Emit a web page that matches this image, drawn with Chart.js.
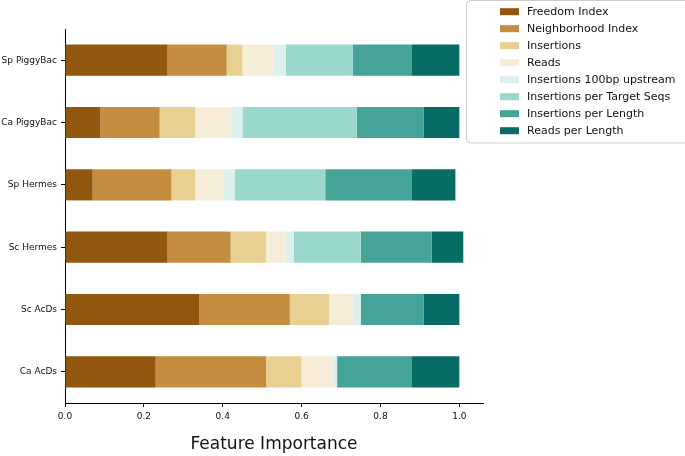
<!DOCTYPE html>
<html>
<head>
<meta charset="utf-8">
<script src="https://cdn.jsdelivr.net/npm/chart.js@4/dist/chart.umd.min.js"></script>
<style>
html,body{margin:0;padding:0;background:#fff;}
#wrap{position:relative;width:685px;height:456px;}
</style>
</head>
<body>
<div id="wrap"><canvas id="c" width="685" height="456"></canvas></div>
<script>
const categories = ["Sp PiggyBac", "Ca PiggyBac", "Sp Hermes", "Sc Hermes", "Sc AcDs", "Ca AcDs"];
const seriesNames = ["Freedom Index", "Neighborhood Index", "Insertions", "Reads", "Insertions 100bp upstream", "Insertions per Target Seqs", "Insertions per Length", "Reads per Length"];
const freedomIndex = [0.26, 0.09, 0.07, 0.26, 0.34, 0.23];
const neighborhoodIndex = [0.15, 0.15, 0.20, 0.16, 0.23, 0.28];
const insertions = [0.04, 0.09, 0.06, 0.09, 0.10, 0.09];
const reads = [0.08, 0.09, 0.07, 0.05, 0.06, 0.08];
const insertions100bp = [0.03, 0.03, 0.03, 0.02, 0.02, 0.01];
const insertionsPerTarget = [0.17, 0.29, 0.23, 0.17, 0.0, 0.0];
const insertionsPerLength = [0.15, 0.17, 0.22, 0.18, 0.16, 0.19];
const readsPerLength = [0.12, 0.09, 0.11, 0.08, 0.09, 0.12];
const xTicks = [0.0, 0.2, 0.4, 0.6, 0.8, 1.0];
const colors = ["#91570e", "#c48d3f", "#e8cf92", "#f6edd8", "#dcf0ed", "#9ad8ce", "#46a398", "#076c63"];

const seriesValues = [freedomIndex, neighborhoodIndex, insertions, reads, insertions100bp, insertionsPerTarget, insertionsPerLength, readsPerLength];
const FONT = "'DejaVu Sans', sans-serif";

const legendPlugin = {
  id: 'boxLegend',
  afterDraw(chart) {
    const ctx = chart.ctx;
    ctx.save();
    const x0 = 466.5, y0 = 0.5, w = 240, h = 142.5, r = 4;
    ctx.beginPath();
    ctx.moveTo(x0 + r, y0);
    ctx.lineTo(x0 + w, y0);
    ctx.lineTo(x0 + w, y0 + h);
    ctx.lineTo(x0 + r, y0 + h);
    ctx.arcTo(x0, y0 + h, x0, y0 + h - r, r);
    ctx.lineTo(x0, y0 + r);
    ctx.arcTo(x0, y0, x0 + r, y0, r);
    ctx.closePath();
    ctx.fillStyle = 'rgba(255,255,255,0.85)';
    ctx.fill();
    ctx.strokeStyle = '#cccccc';
    ctx.lineWidth = 1;
    ctx.stroke();
    ctx.font = "11px " + FONT;
    ctx.textBaseline = 'middle';
    chart.data.datasets.forEach((ds, i) => {
      const cy = 11.7 + 17 * i;
      ctx.fillStyle = ds.backgroundColor;
      ctx.fillRect(500, cy - 3.5, 19, 7);
      ctx.fillStyle = '#111';
      ctx.fillText(ds.label, 527, cy + 0.5);
    });
    ctx.restore();
  }
};

new Chart(document.getElementById('c'), {
  type: 'bar',
  data: {
    labels: categories,
    datasets: seriesNames.map((name, i) => ({
      label: name,
      data: seriesValues[i],
      backgroundColor: colors[i],
      borderWidth: 0,
      categoryPercentage: 1.0,
      barPercentage: 0.5
    }))
  },
  options: {
    indexAxis: 'y',
    responsive: false,
    animation: false,
    devicePixelRatio: 1,
    layout: { padding: { top: 29, right: 202, bottom: 0, left: 0 } },
    plugins: { legend: { display: false }, tooltip: { enabled: false } },
    scales: {
      x: {
        stacked: true,
        min: 0,
        max: 1.06,
        afterFit(scale) { scale.height = 53; },
        afterBuildTicks(scale) { scale.ticks = xTicks.map(v => ({ value: v })); },
        grid: { drawOnChartArea: false, drawTicks: true, tickLength: 4, tickColor: '#000', tickWidth: 1 },
        border: { display: true, color: '#000', width: 1 },
        ticks: { color: '#111', font: { family: FONT, size: 9 }, padding: 4, callback: v => Number(v).toFixed(1), maxRotation: 0 },
        title: { display: true, text: 'Feature Importance', color: '#111', font: { family: FONT, size: 17 }, padding: { top: 0, bottom: 1 } }
      },
      y: {
        stacked: true,
        afterFit(scale) { scale.width = 65; },
        grid: { drawOnChartArea: false, drawTicks: true, tickLength: 4, tickColor: '#000', tickWidth: 1, offset: false },
        border: { display: true, color: '#000', width: 1 },
        ticks: { color: '#111', font: { family: FONT, size: 9 }, padding: 4 }
      }
    }
  },
  plugins: [legendPlugin]
});
</script>
</body>
</html>
